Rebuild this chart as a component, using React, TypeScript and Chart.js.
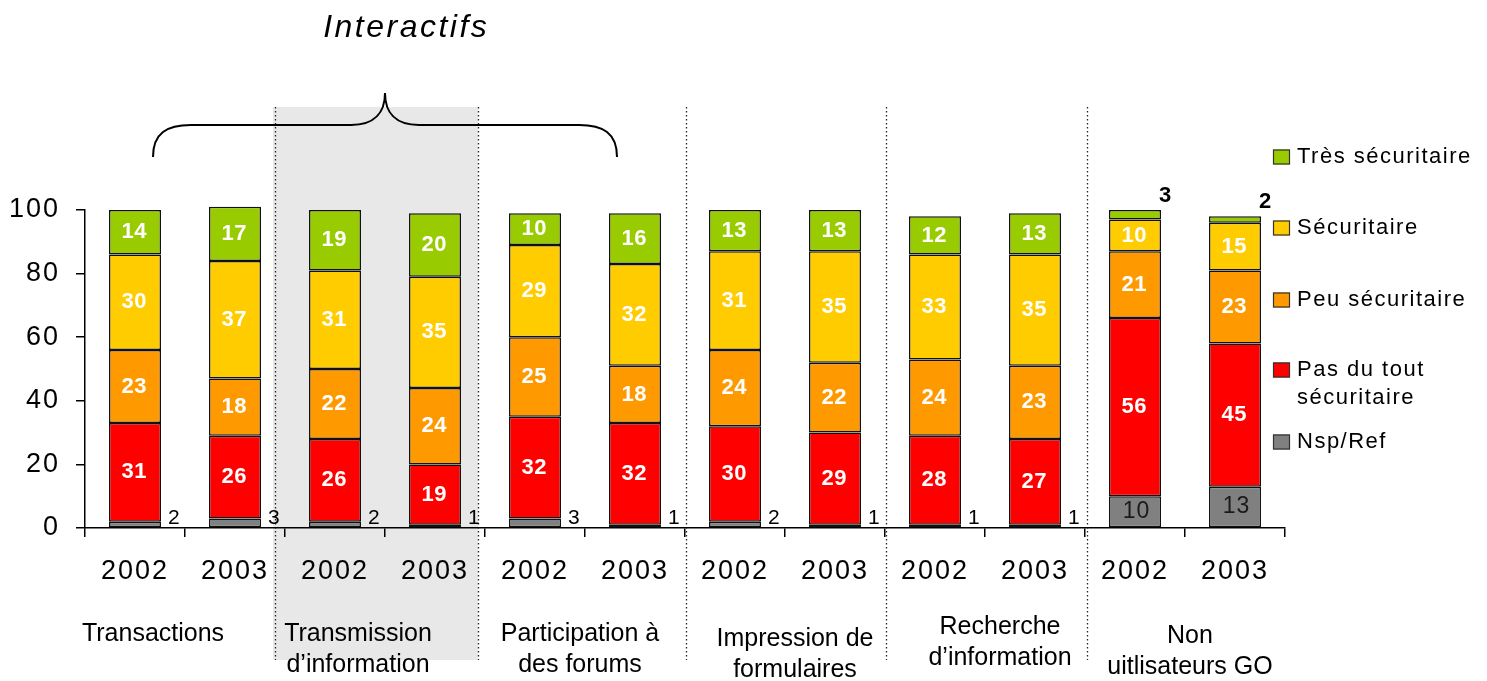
import React, { useEffect, useRef } from "react";
import { Chart, registerables } from "chart.js";

Chart.register(...registerables);

// ---------- data ----------
const categories = ["2002", "2003", "2002", "2003", "2002", "2003", "2002", "2003", "2002", "2003", "2002", "2003"];
const groupNames = [
  ["Transactions"],
  ["Transmission", "d’information"],
  ["Participation à", "des forums"],
  ["Impression de", "formulaires"],
  ["Recherche", "d’information"],
  ["Non", "uitlisateurs GO"],
];
const seriesNames = ["Nsp/Ref", "Pas du tout sécuritaire", "Peu sécuritaire", "Sécuritaire", "Très sécuritaire"];
const nspRef = [2, 3, 2, 1, 3, 1, 2, 1, 1, 1, 10, 13];
const pasDuTout = [31, 26, 26, 19, 32, 32, 30, 29, 28, 27, 56, 45];
const peuSecuritaire = [23, 18, 22, 24, 25, 18, 24, 22, 24, 23, 21, 23];
const securitaire = [30, 37, 31, 35, 29, 32, 31, 35, 33, 35, 10, 15];
const tresSecuritaire = [14, 17, 19, 20, 10, 16, 13, 13, 12, 13, 3, 2];
const yTicks = [0, 20, 40, 60, 80, 100];
const titleText = "Interactifs";

// ---------- styles / layout ----------
const FONT = "'Liberation Sans', Arial, sans-serif";
const colors = ["#808080", "#FF0000", "#FF9900", "#FFCC00", "#99CC00"];
const legendLines = [["Nsp/Ref"], ["Pas du tout", "sécuritaire"], ["Peu sécuritaire"], ["Sécuritaire"], ["Très sécuritaire"]];
const legendY = [442, 370, 300, 228, 157];
// group label placement: center in category units, first line y (px)
const groupLayout = [
  { u: 0.18, y: 634 },
  { u: 2.23, y: 634 },
  { u: 4.45, y: 634 },
  { u: 6.6, y: 639 },
  { u: 8.65, y: 627 },
  { u: 10.55, y: 636 },
];
const dividers = [1.4, 3.43, 5.51, 7.51, 9.52];
const shade = [1.38, 3.43];

function drawText(ctx: CanvasRenderingContext2D, s: string, x: number, y: number, font: string, color: string, align: CanvasTextAlign = "center", spacing = 0) {
  ctx.save();
  ctx.font = font;
  ctx.fillStyle = color;
  ctx.textAlign = align;
  ctx.textBaseline = "middle";
  (ctx as any).letterSpacing = spacing + "px";
  const dx = align === "center" ? spacing / 2 : align === "right" ? spacing : 0;
  ctx.fillText(s, x + dx, y);
  ctx.restore();
}

const decoPlugin = {
  id: "deco",
  beforeDraw(chart: any) {
    const ctx: CanvasRenderingContext2D = chart.ctx;
    const xs = chart.scales.x;
    const P = (u: number) => xs.getPixelForValue(u);
    ctx.save();
    // shaded group
    ctx.fillStyle = "#e8e8e8";
    const g0 = P(shade[0]);
    const g1 = P(shade[1]);
    ctx.fillRect(g0, 107, g1 - g0, 660 - 107);
    // dotted separators
    ctx.strokeStyle = "#222";
    ctx.lineWidth = 1.3;
    ctx.setLineDash([1.5, 2.5]);
    for (const u of dividers) {
      const xx = Math.round(P(u)) + 0.5;
      ctx.beginPath();
      ctx.moveTo(xx, 107);
      ctx.lineTo(xx, 660);
      ctx.stroke();
    }
    ctx.setLineDash([]);
    // brace
    const L = P(0.18), R = P(4.82), M = P(2.5);
    ctx.strokeStyle = "#000";
    ctx.lineWidth = 2;
    ctx.beginPath();
    ctx.moveTo(L, 157);
    ctx.bezierCurveTo(L, 133, L + 14, 125, L + 38, 125);
    ctx.lineTo(M - 34, 125);
    ctx.bezierCurveTo(M - 10, 125, M, 112, M, 93);
    ctx.bezierCurveTo(M, 112, M + 10, 125, M + 34, 125);
    ctx.lineTo(R - 38, 125);
    ctx.bezierCurveTo(R - 14, 125, R, 133, R, 157);
    ctx.stroke();
    ctx.restore();
    // title
    drawText(ctx, titleText, P(2.7), 28, `italic 32px ${FONT}`, "#000", "center", 2.5);
    (ctx as any).letterSpacing = "2px";
  },
  beforeDatasetsDraw(chart: any) {
    (chart.ctx as any).letterSpacing = "0px";
  },
  afterDatasetsDraw(chart: any) {
    const ctx: CanvasRenderingContext2D = chart.ctx;
    const ys = chart.scales.y;
    chart.data.datasets.forEach((ds: any, di: number) => {
      const meta = chart.getDatasetMeta(di);
      meta.data.forEach((el: any, i: number) => {
        const { x, y, base, width } = el.getProps(["x", "y", "base", "width"], true);
        const v = ds.data[i];
        const right = x + width / 2;
        if (di === 0) {
          if (v < 5) {
            drawText(ctx, String(v), right + 7, base - 9, `21px ${FONT}`, "#000", "left", 0.5);
          } else {
            drawText(ctx, String(v), x + 1, (y + base) / 2, `23px ${FONT}`, "#1a1a1a", "center", 1);
          }
        } else if (v < 5) {
          const total = chart.data.datasets.reduce((s: number, d: any) => s + d.data[i], 0);
          drawText(ctx, String(v), right + 4, ys.getPixelForValue(total) - 14, `bold 22px ${FONT}`, "#000", "center", 0);
        } else {
          drawText(ctx, String(v), x - 1, (y + base) / 2, `bold 22px ${FONT}`, "#fff", "center", 0.5);
        }
      });
    });
  },
  afterDraw(chart: any) {
    const ctx: CanvasRenderingContext2D = chart.ctx;
    const xs = chart.scales.x;
    // group labels
    groupNames.forEach((lines, gi) => {
      const g = groupLayout[gi];
      lines.forEach((ln, li) => {
        drawText(ctx, ln, xs.getPixelForValue(g.u), g.y + li * 31, `25px ${FONT}`, "#000", "center", 0);
      });
    });
    // legend
    chart.data.datasets.forEach((ds: any, di: number) => {
      const cy = legendY[di];
      ctx.save();
      ctx.fillStyle = ds.backgroundColor;
      ctx.fillRect(1273, cy - 7.5, 17, 15);
      ctx.strokeStyle = "#333";
      ctx.lineWidth = 1.2;
      ctx.strokeRect(1273.5, cy - 7, 16, 14);
      ctx.restore();
      legendLines[di].forEach((ln, li) => {
        drawText(ctx, ln, 1297, cy + li * 28, `22px ${FONT}`, "#000", "left", 1.5);
      });
    });
  },
};

export default function App() {
  const ref = useRef<HTMLCanvasElement>(null);
  useEffect(() => {
    if (!ref.current) return;
    const seriesData = [nspRef, pasDuTout, peuSecuritaire, securitaire, tresSecuritaire];
    const gridOpts = {
      display: true,
      drawOnChartArea: false,
      drawTicks: true,
      tickLength: 9,
      color: "#000",
      lineWidth: 1.5,
    };
    const chart = new Chart(ref.current, {
      type: "bar",
      data: {
        labels: categories,
        datasets: seriesNames.map((name, i) => ({
          label: name,
          data: seriesData[i],
          backgroundColor: colors[i],
          borderColor: "#111",
          borderWidth: 1.5,
          borderSkipped: false,
          categoryPercentage: 1,
          barPercentage: 0.52,
          clip: false as any,
        })),
      },
      options: {
        responsive: true,
        maintainAspectRatio: false,
        animation: false,
        layout: { padding: { top: 210, right: 202, left: 0, bottom: 0 } },
        plugins: {
          legend: { display: false },
          tooltip: { enabled: false },
          title: { display: false },
        },
        scales: {
          x: {
            stacked: true,
            grid: { ...gridOpts, offset: true },
            border: { display: true, color: "#000", width: 1.5 },
            ticks: { color: "#000", font: { family: FONT, size: 27 }, padding: 18, maxRotation: 0, autoSkip: false },
            afterFit: (s: any) => {
              s.height = 153;
            },
          },
          y: {
            stacked: true,
            min: 0,
            max: 100,
            grid: gridOpts,
            border: { display: true, color: "#000", width: 1.5 },
            afterBuildTicks: (s: any) => {
              s.ticks = yTicks.map((v) => ({ value: v }));
            },
            ticks: { color: "#000", font: { family: FONT, size: 27 }, padding: 16 },
            afterFit: (s: any) => {
              s.width = 85;
            },
          },
        },
      },
      plugins: [decoPlugin],
    } as any);
    return () => chart.destroy();
  }, []);
  return (
    <div style={{ position: "absolute", left: 0, top: 0, width: 1487, height: 681, background: "#fff" }}>
      <canvas ref={ref} />
    </div>
  );
}
